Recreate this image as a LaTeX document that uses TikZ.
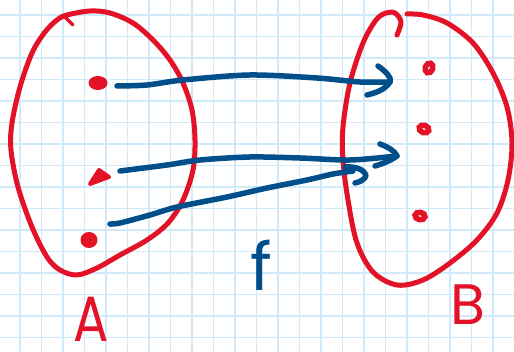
\documentclass[tikz,border=0pt]{standalone}
\usepackage{fontspec}
\newfontfamily\hand{Poppins}
\usetikzlibrary{shapes.geometric}
\definecolor{penred}{RGB}{228,18,38}
\definecolor{penblue}{RGB}{0,78,138}
\definecolor{gridblue}{RGB}{208,234,250}
\begin{document}
\begin{tikzpicture}[x=1pt,y=-1pt,
  setline/.style={penred, line width=5pt, line cap=round, line join=round},
  arrowline/.style={penblue, line width=5.5pt, line cap=round, line join=round},
  gridline/.style={gridblue, line width=1.8pt},
  reddot/.style={ellipse, fill=penred, inner sep=0pt},
  ringdot/.style={ellipse, draw=penred, fill=white, line width=5.5pt, inner sep=0pt, minimum width=10pt, minimum height=7.5pt},
  label/.style={anchor=base, inner sep=0pt}]
\fill[white] (0,0) rectangle (514,352);
\useasboundingbox (0,0) rectangle (514,352);
% graph paper
\foreach \k in {-1,...,23} \draw[gridline] ({20+21.5*\k},0) -- ({20+21.5*\k},352);
\foreach \k in {0,...,15} \draw[gridline] (0,{15+21.5*\k}) -- (514,{15+21.5*\k});
% set A
\draw[setline] plot[smooth cycle, tension=0.55] coordinates {
  (67,15) (90,11) (110,13) (133,23) (153,40) (170,60) (183,83) (192,110)
  (195,140) (193,170) (183,200) (168,223) (147,240) (120,255) (97,268)
  (77,275) (60,270) (47,257) (32,227) (18,187) (11,150) (12,123) (20,87)
  (32,53) (45,32) (57,20)};
\draw[setline, line width=3.5pt] (63,15) -- (73,25);
% set B
\draw[setline] plot[smooth, tension=0.55] coordinates {
  (397,35) (401,22) (395,13) (386,13) (376,20) (363,43) (350,83) (343,127)
  (343,160) (348,200) (357,243) (373,272) (397,285) (423,280) (450,263)
  (477,240) (497,213) (508,180) (512,143) (507,107) (493,73) (473,43)
  (447,23) (423,15) (407,14)};
% elements of A
\node[reddot, minimum width=19pt, minimum height=14pt] (a1) at (98,83) {};
\coordinate (a2) at (99,178);
\filldraw[setline, line width=4pt] (90,184) -- (99,170) -- (109,177) -- cycle;
\node[reddot, minimum width=17pt, minimum height=16pt] (a3) at (89,240) {};
% elements of B
\node[ringdot, rotate=70] (b1) at (429,68) {};
\node[ringdot, rotate=-20] (b2) at (424,129) {};
\node[ringdot, rotate=-10] (b3) at (420,216) {};
% arrow ends
\coordinate (s1) at (117,86);
\coordinate (e1) at (390,82);
\coordinate (s2) at (120,171);
\coordinate (e2) at (397,156);
\coordinate (s3) at (110,224);
\coordinate (e3) at (366,175);
% arrows
\draw[arrowline] plot[smooth, tension=0.5] coordinates {(s1) (147,85) (183,80) (250,75) (317,78) (360,82) (e1)};
\draw[arrowline] (378,66) .. controls (387,72) and (392,79) .. (e1) .. controls (385,90) and (375,93) .. (367,95);
\draw[arrowline] plot[smooth, tension=0.5] coordinates {(s2) (167,165) (200,160) (250,157) (300,158) (350,160) (e2)};
\draw[arrowline] (380,144) .. controls (388,147) and (395,151) .. (e2) .. controls (390,161) and (382,164) .. (375,166);
\draw[arrowline] plot[smooth, tension=0.5] coordinates {(s3) (120,223) (150,215) (177,207) (227,197) (267,188) (307,180) (333,174) (353,171)};
\draw[arrowline] (345,167) .. controls (356,166) and (364,170) .. (e3) .. controls (366,179) and (360,182) .. (355,183);
% labels
\node[label, text=penred, font=\hand\fontsize{64}{64}\selectfont] (labA) at (91,342) {\scalebox{0.82}[1]{A}};
\node[label, text=penblue, font=\hand\fontsize{66}{66}\selectfont] (labf) at (261,291) {f};
\node[label, text=penred, font=\hand\fontsize{57}{57}\selectfont] (labB) at (468,325) {B};
\end{tikzpicture}
\end{document}
